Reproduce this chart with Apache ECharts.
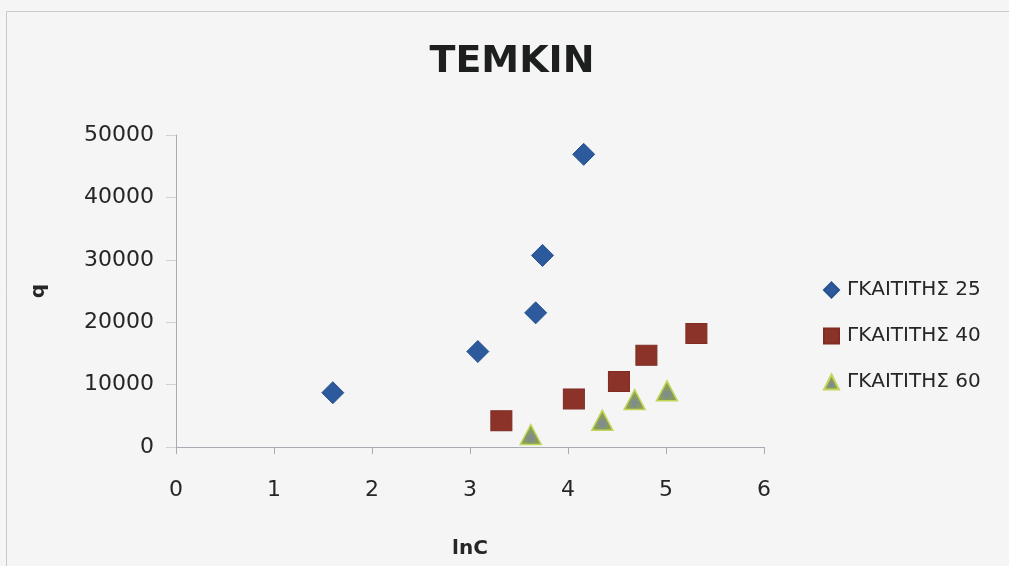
<!DOCTYPE html>
<html>
<head>
<meta charset="utf-8">
<script src="https://cdn.jsdelivr.net/npm/echarts@6/dist/echarts.min.js"></script>
<style>
  html, body { margin: 0; padding: 0; background: #f5f5f5; }
  #chart { width: 1009px; height: 566px; }
</style>
</head>
<body>
<div id="chart"></div>
<script>
// Temkin isotherm: q against lnC for three temperatures
const seriesNames = ['ΓΚΑΙΤΙΤΗΣ 25', 'ΓΚΑΙΤΙΤΗΣ 40', 'ΓΚΑΙΤΙΤΗΣ 60'];

const lnC25 = [1.60, 3.08, 3.67, 3.74, 4.16];
const q25   = [8700, 15300, 21500, 30700, 46900];

const lnC40 = [3.32, 4.06, 4.52, 4.80, 5.31];
const q40   = [4200, 7700, 10500, 14700, 18200];

const lnC60 = [3.62, 4.35, 4.68, 5.01];
const q60   = [2000, 4300, 7600, 9000];

const xTicks = { min: 0, max: 6, interval: 1 };
const yTicks = { min: 0, max: 50000, interval: 10000 };

const pairs = (xs, ys) => xs.map((x, i) => [x, ys[i]]);

const FONT = 'DejaVu Sans';
const TEXT = '#262626';
const AXIS = '#a9abb2';

const chart = echarts.init(document.getElementById('chart'), null, { renderer: 'canvas' });

chart.setOption({
  backgroundColor: '#f5f5f5',
  animation: false,
  graphic: [{
    type: 'rect',
    silent: true,
    shape: { x: 6.5, y: 11.5, width: 1100, height: 700 },
    style: { fill: 'none', stroke: '#c9c9c9', lineWidth: 1 }
  }],
  title: {
    text: 'TEMKIN',
    left: 512,
    textAlign: 'center',
    top: 43,
    padding: 0,
    textStyle: { fontFamily: FONT, fontWeight: 'bold', fontSize: 38, color: '#1c1f1e' }
  },
  legend: {
    orient: 'vertical',
    left: 818,
    top: 275,
    itemWidth: 15,
    itemHeight: 15,
    itemGap: 26,
    data: seriesNames,
    textStyle: { fontFamily: FONT, fontSize: 20, color: TEXT, padding: [0, 0, 0, 3] }
  },
  grid: { left: 176, right: 245, top: 135, bottom: 119, containLabel: false },
  xAxis: {
    type: 'value',
    min: xTicks.min, max: xTicks.max, interval: xTicks.interval,
    name: 'lnC',
    nameLocation: 'middle',
    nameGap: 92,
    nameTextStyle: { fontFamily: FONT, fontWeight: 'bold', fontSize: 20, color: TEXT },
    axisLine: { show: true, lineStyle: { color: AXIS, width: 1 } },
    axisTick: { show: true, length: 7, lineStyle: { color: AXIS } },
    axisLabel: { fontFamily: FONT, fontSize: 22, color: TEXT, margin: 32 },
    splitLine: { show: false }
  },
  yAxis: {
    type: 'value',
    min: yTicks.min, max: yTicks.max, interval: yTicks.interval,
    name: 'q',
    nameLocation: 'middle',
    nameGap: 127,
    nameTextStyle: { fontFamily: FONT, fontWeight: 'bold', fontSize: 20, color: TEXT },
    axisLine: { show: true, lineStyle: { color: AXIS, width: 1 } },
    axisTick: { show: true, length: 10, lineStyle: { color: '#d0d1d6' } },
    axisLabel: {
      fontFamily: FONT, fontSize: 22, color: TEXT, margin: 22,
      formatter: (v) => String(v)
    },
    splitLine: { show: false }
  },
  series: [
    {
      name: seriesNames[0],
      type: 'scatter',
      symbol: 'diamond',
      symbolSize: 22,
      itemStyle: { color: '#2c5a9c', borderColor: '#28528f', borderWidth: 1, opacity: 1 },
      data: pairs(lnC25, q25)
    },
    {
      name: seriesNames[1],
      type: 'scatter',
      symbol: 'rect',
      symbolSize: [21, 20],
      itemStyle: { color: '#8c3329', borderColor: '#7f2c23', borderWidth: 1, opacity: 1 },
      data: pairs(lnC40, q40)
    },
    {
      name: seriesNames[2],
      type: 'scatter',
      symbol: 'triangle',
      symbolSize: [21, 20],
      itemStyle: {
        color: {
          type: 'radial', x: 0.5, y: 0.66, r: 0.55,
          colorStops: [
            { offset: 0, color: '#7d8799' },
            { offset: 0.45, color: '#86986a' },
            { offset: 1, color: '#8fab3d' }
          ]
        },
        borderColor: '#c3d55a',
        borderWidth: 1.5,
        opacity: 1
      },
      data: pairs(lnC60, q60)
    }
  ]
});
</script>
</body>
</html>
